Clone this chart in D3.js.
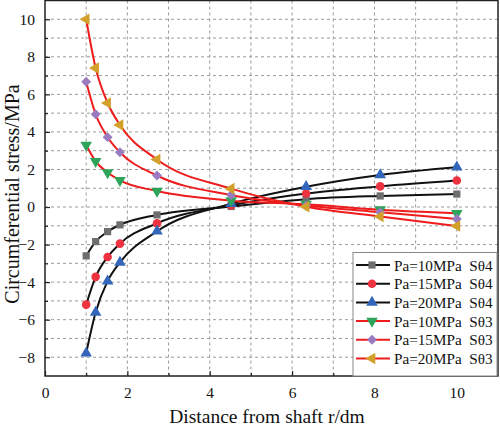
<!DOCTYPE html>
<html><head><meta charset="utf-8">
<script src="https://cdn.jsdelivr.net/npm/d3@7"></script>
<style>body{margin:0;background:#fff}svg{display:block}text{font-family:"Liberation Serif","Times New Roman",serif}</style>
</head><body><svg id="c" width="500" height="429"></svg>
<script>
const xs = [1, 1.23, 1.52, 1.82, 2.72, 4.52, 6.34, 8.14, 10];
const s04_10 = [-2.6, -1.84, -1.31, -0.95, -0.42, 0.03, 0.42, 0.59, 0.69];
const s04_15 = [-5.2, -3.72, -2.66, -1.95, -0.87, 0.09, 0.72, 1.1, 1.41];
const s04_20 = [-7.79, -5.61, -3.95, -2.95, -1.29, 0.18, 1.08, 1.71, 2.12];
const s03_10 = [3.3, 2.43, 1.84, 1.42, 0.85, 0.34, 0.15, -0.14, -0.33];
const s03_15 = [6.67, 4.94, 3.72, 2.92, 1.68, 0.64, 0.08, -0.28, -0.64];
const s03_20 = [10.0, 7.4, 5.54, 4.37, 2.53, 0.98, 0.02, -0.5, -1.01];
const seriesNames = ["Pa=10MPa  S\u03b84","Pa=15MPa  S\u03b84","Pa=20MPa  S\u03b84","Pa=10MPa  S\u03b83","Pa=15MPa  S\u03b83","Pa=20MPa  S\u03b83"];
const xTicks = [0,2,4,6,8,10];
const yTicks = [-8,-6,-4,-2,0,2,4,6,8,10];

const series = [
  {name: seriesNames[0], vals: s04_10, line:"#111", fill:"#6e6e6e", sym: d3.symbolSquare, rot:0, size:52},
  {name: seriesNames[1], vals: s04_15, line:"#111", fill:"#ee3340", sym: d3.symbolCircle, rot:0, size:58},
  {name: seriesNames[2], vals: s04_20, line:"#111", fill:"#3366bb", sym: d3.symbolTriangle, rot:0, size:58},
  {name: seriesNames[3], vals: s03_10, line:"#ee1c1c", fill:"#2ea35a", sym: d3.symbolTriangle, rot:180, size:58},
  {name: seriesNames[4], vals: s03_15, line:"#ee1c1c", fill:"#9a7bbf", sym: d3.symbolDiamond2, rot:0, size:62},
  {name: seriesNames[5], vals: s03_20, line:"#ee1c1c", fill:"#d4a02c", sym: d3.symbolTriangle, rot:-90, size:58}
];

const svg = d3.select("#c");
const L=45, R=498, T=0.5, B=376;
const x = d3.scaleLinear().domain([0,11]).range([L,R]);
const y = d3.scaleLinear().domain([-9,11]).range([B,T]);

// grid
const g = svg.append("g");
g.selectAll(".gx").data(d3.range(1,11)).join("line")
  .attr("x1",d=>x(d)).attr("x2",d=>x(d)).attr("y1",T).attr("y2",B)
  .attr("stroke","#9a9a9a").attr("stroke-width",1).attr("stroke-dasharray","3,3");
g.selectAll(".gy").data(d3.range(-8,11)).join("line")
  .attr("y1",d=>y(d)).attr("y2",d=>y(d)).attr("x1",L).attr("x2",R)
  .attr("stroke","#9a9a9a").attr("stroke-width",1).attr("stroke-dasharray","3,3");

// axes
const xAxis = d3.axisBottom(x).tickValues(xTicks).tickSize(-5).tickPadding(11).tickFormat(d3.format("d"));
const xMinor = d3.axisBottom(x).tickValues(d3.range(1,11,2)).tickSize(-3).tickFormat("");
const yAxis = d3.axisLeft(y).tickValues(yTicks).tickSize(-5).tickPadding(10).tickFormat(d3.format("d"));
const yMinor = d3.axisLeft(y).tickValues(d3.range(-7,11,2)).tickSize(-3).tickFormat("");
function style(sel){ sel.select(".domain").remove(); sel.selectAll("line").attr("stroke","#222").attr("stroke-width",1.2);
  sel.selectAll("text").attr("font-size",15.5).attr("fill","#111").style("font-family","'Liberation Serif',serif"); }
svg.append("g").attr("transform",`translate(0,${B})`).call(xAxis).call(style);
svg.append("g").attr("transform",`translate(0,${B})`).call(xMinor).call(style);
svg.append("g").attr("transform",`translate(${L},0)`).call(yAxis).call(style);
svg.append("g").attr("transform",`translate(${L},0)`).call(yMinor).call(style);

// lines
const line = d3.line().x((d,i)=>x(xs[i])).y(d=>y(d)).curve(d3.curveMonotoneX);
series.forEach(s=>{
  svg.append("path").attr("d",line(s.vals)).attr("fill","none").attr("stroke",s.line).attr("stroke-width",2);
});
function marker(sel, s){
  return sel.attr("d", d3.symbol().type(s.sym).size(s.size)()).attr("fill",s.fill);
}
series.forEach(s=>{
  s.vals.forEach((v,i)=>{
    svg.append("path").call(marker, s)
      .attr("transform",`translate(${x(xs[i])},${y(v)}) rotate(${s.rot})`);
  });
});

// frame
svg.append("rect").attr("x",L).attr("y",T).attr("width",R-L).attr("height",B-T)
  .attr("fill","none").attr("stroke","#222").attr("stroke-width",1.5);

// legend
const lg = svg.append("g");
lg.append("rect").attr("x",353).attr("y",252.5).attr("width",144).attr("height",123.5)
  .attr("fill","#fff").attr("stroke","#888").attr("stroke-width",1);
series.forEach((s,i)=>{
  const cy = 265 + i*18.7;
  lg.append("line").attr("x1",356).attr("x2",390).attr("y1",cy).attr("y2",cy).attr("stroke",s.line).attr("stroke-width",2);
  lg.append("path").call(marker, s).attr("transform",`translate(372,${cy}) rotate(${s.rot})`);
  lg.append("text").attr("x",394).attr("y",cy+5.5).attr("font-size",15.2).attr("fill","#111").attr("xml:space","preserve").text(s.name);
});

// titles
svg.append("text").attr("x",267).attr("y",423).attr("text-anchor","middle").attr("font-size",19.5).attr("fill","#111").text("Distance from shaft r/dm");
svg.append("text").attr("transform","translate(19,194) rotate(-90)").attr("text-anchor","middle").attr("font-size",20).attr("fill","#111").text("Circumferential stress/MPa");
</script></body></html>
